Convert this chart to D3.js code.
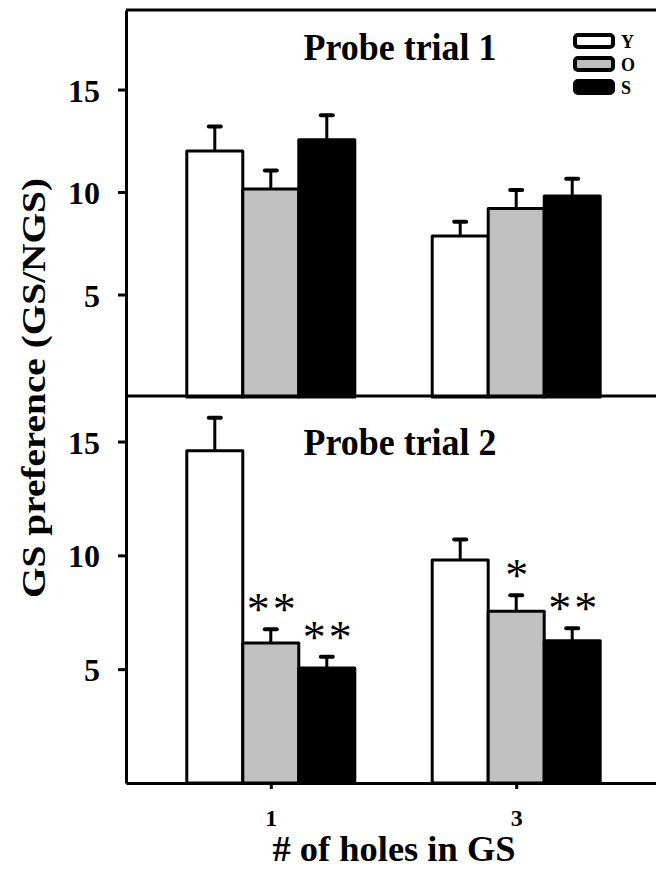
<!DOCTYPE html>
<html>
<head>
<meta charset="utf-8">
<script src="https://cdn.jsdelivr.net/npm/d3@7"></script>
<style>
  body { margin: 0; background: #fff; }
  text { font-family: "Liberation Serif", "Times New Roman", serif; font-weight: bold; }
</style>
</head>
<body>
<svg id="chart" width="656" height="869"></svg>
<script>
// groups on the x axis (# of holes) and the three age groups
const groups = ["1", "3"];
const series = ["Y", "O", "S"];
const seriesFill = ["#ffffff", "#c0c0c0", "#000000"];

// probe trial 1, [group][series]
const probe1Means = [[12.0, 10.15, 12.55], [7.85, 9.2, 9.8]];
const probe1Errs = [[1.2, 0.9, 1.2], [0.7, 0.9, 0.85]];

// probe trial 2, [group][series]
const probe2Means = [[14.6, 6.15, 5.05], [9.8, 7.55, 6.25]];
const probe2Errs = [[1.45, 0.6, 0.5], [0.9, 0.7, 0.55]];
const probe2Stars = [["", "**", "**"], ["", "*", "**"]];

const yTicks = [5, 10, 15];

const svg = d3.select("#chart");
const left = 126, right = 661;

// x scales shared by both panels
const xScale = d3.scalePoint()
    .domain(groups)
    .range([left, right])
    .padding(0.59);

const xInner = d3.scaleBand()
    .domain(series)
    .range([-84, 84]);

// draws one panel of grouped bars with error bars
const drawPanel = (means, errs, stars, top, bottom, yMax, title, titleY) => {
  const yScale = d3.scaleLinear()
      .domain([0, yMax])
      .range([bottom, top]);

  const g = svg.append("g");

  const rows = [];
  groups.forEach((grp, i) => {
    series.forEach((s, j) => {
      rows.push({ grp, s, j, mean: means[i][j], err: errs[i][j], star: stars ? stars[i][j] : "" });
    });
  });

  const barMid = d => xScale(d.grp) + xInner(d.s) + xInner.bandwidth() / 2;

  // error bars first so the bar outline sits on top of the stem base
  g.selectAll(".stem")
    .data(rows)
    .enter().append("line")
      .attr("x1", barMid)
      .attr("x2", barMid)
      .attr("y1", d => yScale(d.mean))
      .attr("y2", d => yScale(d.mean + d.err))
      .attr("stroke", "#000")
      .attr("stroke-width", 3);

  g.selectAll(".cap")
    .data(rows)
    .enter().append("line")
      .attr("x1", d => barMid(d) - 6)
      .attr("x2", d => barMid(d) + 6)
      .attr("y1", d => yScale(d.mean + d.err))
      .attr("y2", d => yScale(d.mean + d.err))
      .attr("stroke", "#000")
      .attr("stroke-width", 4)
      .attr("stroke-linecap", "round");

  g.selectAll(".bar")
    .data(rows)
    .enter().append("rect")
      .attr("x", d => xScale(d.grp) + xInner(d.s))
      .attr("y", d => yScale(d.mean))
      .attr("width", xInner.bandwidth())
      .attr("height", d => yScale(0) - yScale(d.mean))
      .attr("fill", d => seriesFill[d.j])
      .attr("stroke", "#000")
      .attr("stroke-width", 3)
      .attr("stroke-linejoin", "round");

  // significance marks
  g.selectAll(".star")
    .data(rows.filter(d => d.star))
    .enter().append("text")
      .attr("x", d => barMid(d) + 2)
      .attr("y", d => yScale(d.mean + d.err) - 4)
      .attr("text-anchor", "middle")
      .attr("font-size", 46)
      .style("font-weight", "normal")
      .attr("letter-spacing", 3)
      .text(d => d.star);

  // left axis
  const yAxis = d3.axisLeft(yScale)
    .tickValues(yTicks)
    .tickSize(8)
    .tickSizeOuter(0)
    .tickPadding(18);

  const ax = g.append("g")
    .attr("transform", `translate(${left},0)`)
    .call(yAxis);
  ax.select(".domain").attr("stroke-width", 3);
  ax.selectAll(".tick line").attr("stroke-width", 3);
  ax.selectAll(".tick text")
    .attr("font-size", 32)
    .attr("dy", "0.36em");

  // top edge of the panel
  g.append("line")
    .attr("x1", left).attr("x2", right)
    .attr("y1", top).attr("y2", top)
    .attr("stroke", "#000")
    .attr("stroke-width", 3);

  g.append("text")
    .attr("x", 400)
    .attr("y", titleY)
    .attr("text-anchor", "middle")
    .attr("font-size", 37)
    .attr("textLength", 193)
    .attr("lengthAdjust", "spacingAndGlyphs")
    .text(title);

  return yScale;
}

drawPanel(probe1Means, probe1Errs, null, 10, 397, 18.88, "Probe trial 1", 60);
drawPanel(probe2Means, probe2Errs, probe2Stars, 396, 783, 17.0, "Probe trial 2", 455);

// bottom x axis
const xAxis = d3.axisBottom(xScale)
  .tickSize(6)
  .tickSizeOuter(0)
  .tickPadding(20);

const xa = svg.append("g")
  .attr("transform", "translate(0,783)")
  .call(xAxis);
xa.select(".domain").attr("stroke-width", 3);
xa.selectAll(".tick line").attr("stroke-width", 3);
xa.selectAll(".tick text")
  .attr("font-size", 24);

// axis titles
svg.append("text")
  .attr("x", 394)
  .attr("y", 861)
  .attr("text-anchor", "middle")
  .attr("font-size", 35)
  .attr("textLength", 243)
  .attr("lengthAdjust", "spacingAndGlyphs")
  .text("# of holes in GS");

svg.append("text")
  .attr("transform", "translate(45,388) rotate(-90)")
  .attr("text-anchor", "middle")
  .attr("font-size", 34)
  .attr("textLength", 420)
  .attr("lengthAdjust", "spacingAndGlyphs")
  .text("GS preference (GS/NGS)");

// legend
const legend = svg.append("g").attr("transform", "translate(575,35)");
const rowGap = 23;

legend.selectAll("rect")
  .data(series)
  .enter().append("rect")
    .attr("x", 0)
    .attr("y", (d, i) => i * rowGap)
    .attr("width", 38)
    .attr("height", 12)
    .attr("rx", 3)
    .attr("fill", (d, i) => seriesFill[i])
    .attr("stroke", "#000")
    .attr("stroke-width", 4);

legend.selectAll("text")
  .data(series)
  .enter().append("text")
    .attr("x", 46)
    .attr("y", (d, i) => i * rowGap + 13)
    .attr("font-size", 18)
    .text(d => d);
</script>
</body>
</html>
